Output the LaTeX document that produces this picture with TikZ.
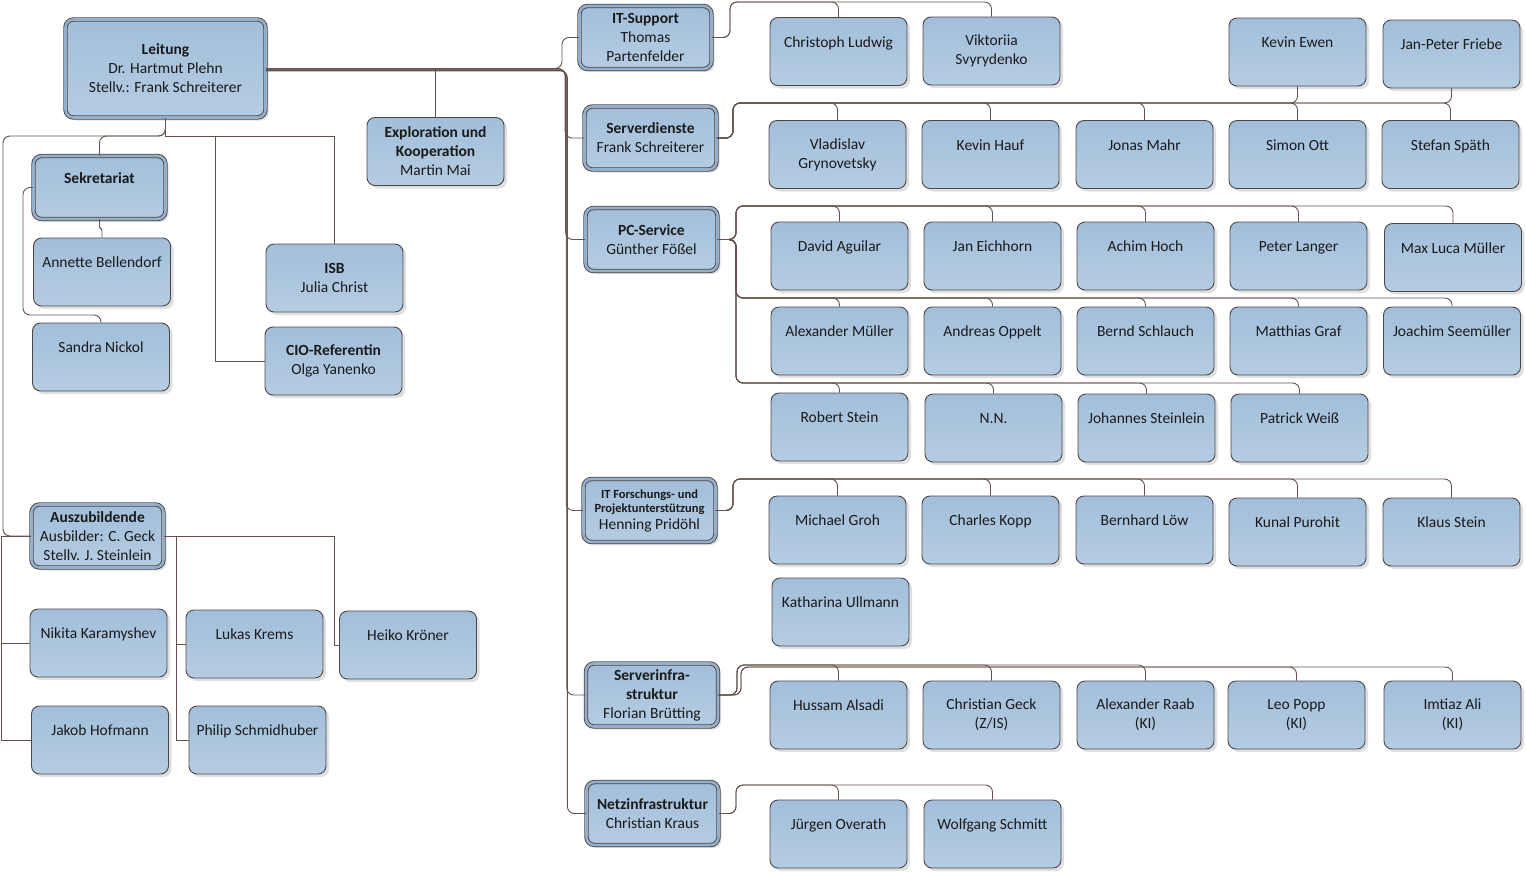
\documentclass[tikz,border=0pt]{standalone}
\usepackage{fontspec}
\setmainfont{Carlito}
\usetikzlibrary{shadows}

\definecolor{boxtop}{HTML}{A2BEDA}
\definecolor{boxbot}{HTML}{B5CDE2}
\definecolor{boxline}{HTML}{4E4646}
\definecolor{ringcol}{HTML}{94AFCB}
\definecolor{linkcol}{HTML}{66524C}
\definecolor{txtcol}{HTML}{1A1A1A}

\newcommand{\smallhd}{\fontsize{12.5}{14}\selectfont\bfseries}

\tikzset{
  box/.style={rounded corners=8pt, draw=boxline, line width=.9pt,
    top color=boxtop, bottom color=boxbot,
    drop shadow={shadow xshift=3pt,shadow yshift=-3pt,opacity=.25},
    align=center, text=txtcol, inner sep=2pt, font=\fontsize{15.5}{19}\selectfont},
  member/.style={box, minimum width=137pt, minimum height=68pt},
  head/.style={box, double=ringcol, double distance=2.6pt,
    minimum width=132pt, minimum height=63pt},
  link/.style={draw=linkcol, line width=.9pt},
  rlink/.style={link, rounded corners=7pt},
}

\begin{document}
\begin{tikzpicture}[x=1pt,y=-1pt]
\useasboundingbox (0,0) rectangle (1526,873);

% Leitung and staff
\node[head, minimum width=200pt, minimum height=98pt] (leitung) at (165.5,68.5)
  {\textbf{Leitung}\\Dr. Hartmut Plehn\\Stellv.: Frank Schreiterer};
\node[head] (sek) at (99.5,187.5) {\textbf{Sekretariat}\\~};
\node[member] (annette) at (102,272) {Annette Bellendorf\\~};
\node[member] (sandra) at (101,357) {Sandra Nickol\\~};
\node[member] (explor) at (435.5,151.5) {\textbf{Exploration und}\\\textbf{Kooperation}\\Martin Mai};
\node[member] (isb) at (334.5,278) {\textbf{ISB}\\Julia Christ};
\node[member] (cio) at (333.5,361) {\textbf{CIO-Referentin}\\Olga Yanenko};

% Auszubildende
\node[head] (azubi) at (97.5,536) {\textbf{Auszubildende}\\Ausbilder: C. Geck\\Stellv. J. Steinlein};
\node[member] (nikita) at (98.5,643) {Nikita Karamyshev\\~};
\node[member] (krems) at (254.5,644) {Lukas Krems\\~};
\node[member] (kroener) at (408,645) {Heiko Kröner\\~};
\node[member] (hofmann) at (100,740) {Jakob Hofmann\\~};
\node[member] (schmidhuber) at (257.5,740) {Philip Schmidhuber\\~};

% Abteilungen
\node[head] (itsup) at (645.5,37.5) {\textbf{IT-Support}\\Thomas\\Partenfelder};
\node[head] (srv) at (650.5,138) {\textbf{Serverdienste}\\Frank Schreiterer};
\node[head] (pc) at (651.5,239.5) {\textbf{PC-Service}\\Günther Fößel};
\node[head] (itf) at (649.5,510.5) {\smallhd IT Forschungs- und\\[-5pt]\smallhd Projektunterstützung\\[-2pt]Henning Pridöhl};
\node[head] (si) at (652,695) {\textbf{Serverinfra-}\\\textbf{struktur}\\Florian Brütting};
\node[head] (netz) at (652.5,813.5) {\textbf{Netzinfrastruktur}\\Christian Kraus};

% IT-Support
\node[member] (ludwig) at (838.5,51.5) {Christoph Ludwig\\~};
\node[member] (svyrydenko) at (991.5,51) {Viktoriia\\Svyrydenko};
\node[member] (ewen) at (1297.5,52) {Kevin Ewen\\~};
\node[member] (friebe) at (1451.5,54) {Jan-Peter Friebe\\~};

% Serverdienste
\node[member] (grynovetsky) at (837.5,154.5) {Vladislav\\Grynovetsky};
\node[member] (hauf) at (990.5,154.5) {Kevin Hauf\\~};
\node[member] (mahr) at (1144.5,154.5) {Jonas Mahr\\~};
\node[member] (ott) at (1297.5,154.5) {Simon Ott\\~};
\node[member] (spaeth) at (1450.5,154.5) {Stefan Späth\\~};

% PC-Service
\node[member] (aguilar) at (839.5,256) {David Aguilar\\~};
\node[member] (eichhorn) at (992.5,256) {Jan Eichhorn\\~};
\node[member] (hoch) at (1145.5,256) {Achim Hoch\\~};
\node[member] (langer) at (1298.5,256) {Peter Langer\\~};
\node[member] (mmueller) at (1453,257.5) {Max Luca Müller\\~};
\node[member] (amueller) at (839.5,341) {Alexander Müller\\~};
\node[member] (oppelt) at (992.5,341) {Andreas Oppelt\\~};
\node[member] (schlauch) at (1145.5,341) {Bernd Schlauch\\~};
\node[member] (graf) at (1298.5,341) {Matthias Graf\\~};
\node[member] (seemueller) at (1452,341) {Joachim Seemüller\\~};
\node[member] (rstein) at (839.5,427) {Robert Stein\\~};
\node[member] (nn) at (993.5,428) {N.N.\\~};
\node[member] (steinlein) at (1146.5,428) {Johannes Steinlein\\~};
\node[member] (weiss) at (1299.5,428) {Patrick Weiß\\~};

% IT Forschungs- und Projektunterstuetzung
\node[member] (groh) at (837.5,530) {Michael Groh\\~};
\node[member] (kopp) at (990.5,530) {Charles Kopp\\~};
\node[member] (loew) at (1144.5,530) {Bernhard Löw\\~};
\node[member] (purohit) at (1297.5,532) {Kunal Purohit\\~};
\node[member] (kstein) at (1451.5,532) {Klaus Stein\\~};
\node[member] (ullmann) at (840.5,612) {Katharina Ullmann\\~};

% Serverinfrastruktur
\node[member] (alsadi) at (838.5,715) {Hussam Alsadi\\~};
\node[member] (geck) at (991.5,715) {Christian Geck\\(Z/IS)};
\node[member] (raab) at (1145.5,715) {Alexander Raab\\(KI)};
\node[member] (popp) at (1296.5,715) {Leo Popp\\(KI)};
\node[member] (ali) at (1452.5,715) {Imtiaz Ali\\(KI)};

% Netzinfrastruktur
\node[member] (overath) at (838.5,834) {Jürgen Overath\\~};
\node[member] (schmitt) at (992.5,834) {Wolfgang Schmitt\\~};

% bus points
\coordinate (trunk) at (565,68.5);
\coordinate (lbus) at (164,136);
\coordinate (lleft) at (3,136);
\coordinate (ciox) at (215,136);
\coordinate (sekleft) at (23,315);
\coordinate (azl) at (1,536);
\coordinate (azr) at (176,536);
\coordinate (azh) at (334,536);
\coordinate (itbus) at (730,2);
\coordinate (srvbus) at (733,103);
\coordinate (pcbusa) at (736,206);
\coordinate (pcbusb) at (736,298);
\coordinate (pcbusc) at (736,383);
\coordinate (itfbus) at (733,479);
\coordinate (sibus) at (737,665);
\coordinate (sibusb) at (741,667);
\coordinate (netzbus) at (736,785);

% Leitung -> Abteilungen
\draw[rlink] (leitung.east) -- ([xshift=-3pt]trunk) |- (itsup.west);
\foreach \h/\o in {srv/0,pc/.6,itf/1.2,si/1.8,netz/2.4}
  \draw[rlink] ([yshift=-\o pt]leitung.east) -- ([xshift=\o pt,yshift=-\o pt]trunk) |- (\h.west);
\draw[link] (explor.north) -- (explor.north |- leitung.east);

% Leitung -> Stab
\draw[rlink] (leitung.south) |- (sek.north |- lbus) -- (sek.north);
\draw[rlink] (leitung.south) |- (lleft) |- (azubi.west);
\draw[link] (leitung.south) |- (isb.north |- lbus) -- (isb.north);
\draw[link] (leitung.south) |- (ciox) |- (cio.west);
\draw[link, rounded corners=1.5pt] (sek.south) -- ++(0,9) -| (annette.north);
\draw[rlink] (sek.west) -| (sekleft) -| (sandra.north);

% Auszubildende
\foreach \m in {nikita,hofmann}
  \draw[link] (azubi.west) -| (azl |- \m.west) -- (\m.west);
\foreach \m in {krems,schmidhuber}
  \draw[link] (azubi.east) -| (azr |- \m.west) -- (\m.west);
\draw[link] (azubi.east) -| (azh |- kroener.west) -- (kroener.west);

% Abteilungen -> Mitarbeiter
\foreach \m in {ludwig,svyrydenko}
  \draw[rlink] (itsup.east) -| (itbus) -| (\m.north);
\foreach \m in {grynovetsky,hauf,mahr,ott,spaeth}
  \draw[rlink] (srv.east) -| (srvbus) -| (\m.north);
\foreach \m in {ewen,friebe}
  \draw[rlink] (srv.east) -| (srvbus) -| (\m.south);
\foreach \m in {aguilar,eichhorn,hoch,langer,mmueller}
  \draw[rlink] (pc.east) -| (pcbusa) -| (\m.north);
\foreach \m in {amueller,oppelt,schlauch,graf,seemueller}
  \draw[rlink] (pc.east) -| (pcbusb) -| (\m.north);
\foreach \m in {rstein,nn,steinlein,weiss}
  \draw[rlink] (pc.east) -| (pcbusc) -| (\m.north);
\foreach \m in {groh,kopp,loew,purohit,kstein}
  \draw[rlink] (itf.east) -| (itfbus) -| (\m.north);
\foreach \m in {alsadi,geck,raab}
  \draw[rlink] (si.east) -| (sibus) -| (\m.north);
\foreach \m in {popp,ali}
  \draw[rlink] (si.east) -| (sibusb) -| (\m.north);
\foreach \m in {overath,schmitt}
  \draw[rlink] (netz.east) -| (netzbus) -| (\m.north);
\end{tikzpicture}
\end{document}
